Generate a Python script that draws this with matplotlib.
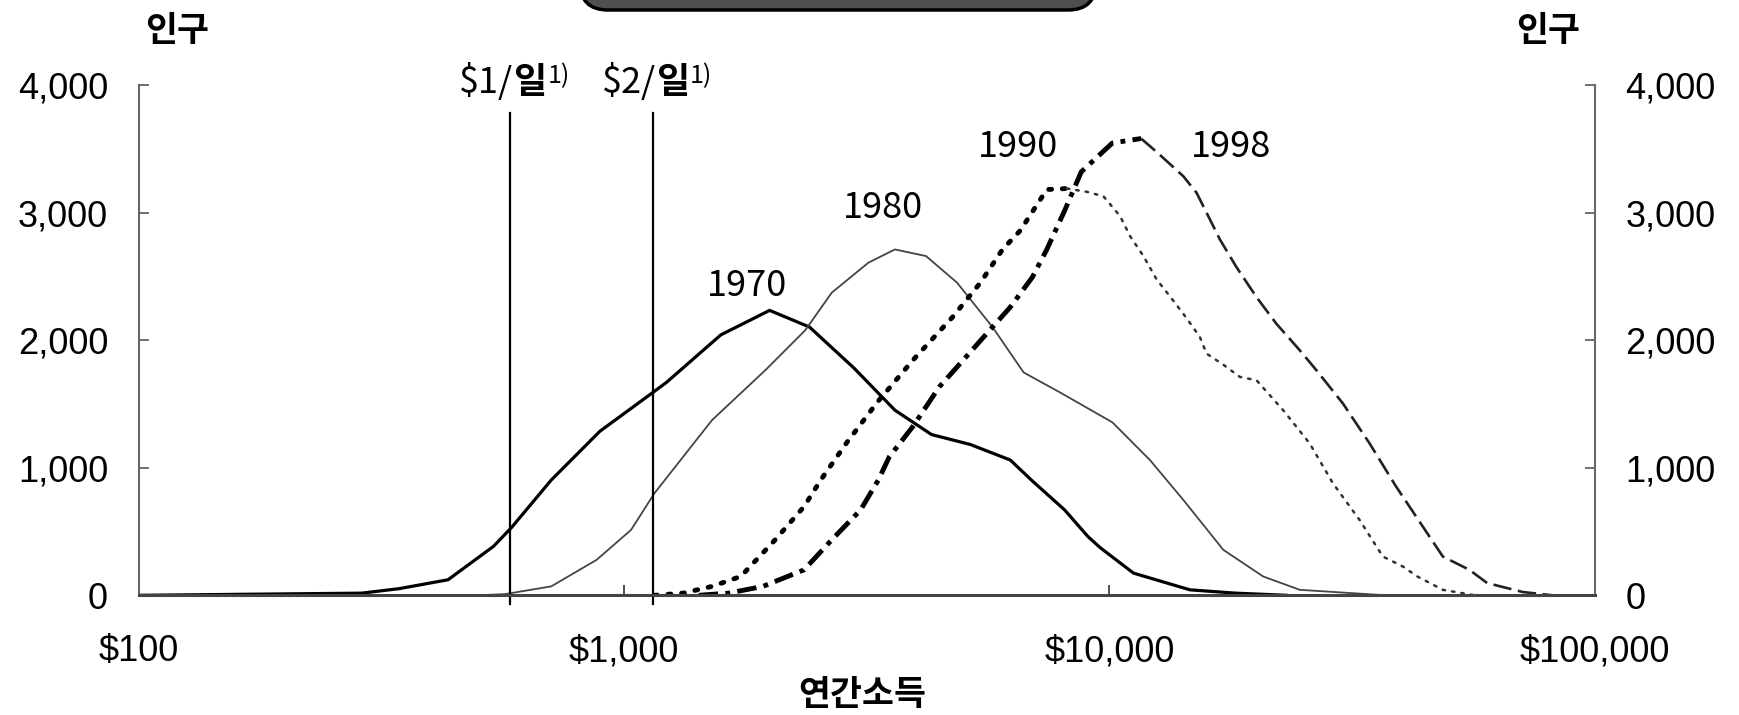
import numpy as np
import matplotlib
matplotlib.use("Agg")
from matplotlib import pyplot as plt
from matplotlib.patches import FancyBboxPatch
from matplotlib.transforms import IdentityTransform

plt.rcParams['font.family'] = ['Noto Sans CJK KR', 'DejaVu Sans']

# annual income (USD, log axis) and population for each year's curve
inc_1970 = [100, 288, 344, 434, 538, 586, 708, 892, 1155, 1223, 1583, 1995, 2411, 2976, 3615,
            4300, 5170, 6250, 6906, 8085, 9030, 9570, 11210, 14650, 18180, 23160]
pop_1970 = [0, 17, 52, 122, 383, 530, 904, 1287, 1600, 1670, 2043, 2235, 2104, 1783, 1452,
            1261, 1183, 1061, 904, 670, 461, 374, 174, 43, 17, 0]

inc_1980 = [498, 568, 708, 878, 1034, 1155, 1518, 1954, 2361, 2679, 3187, 3615, 4190, 4855,
            5743, 6657, 7914, 10140, 12120, 14200, 17160, 20730, 24670, 37180]
pop_1980 = [0, 9, 70, 278, 513, 800, 1374, 1765, 2078, 2374, 2609, 2713, 2661, 2452,
            2104, 1748, 1591, 1357, 1061, 748, 357, 148, 43, 0]

inc_1990 = [1155, 1324, 1518, 1740, 2048, 2349, 2542, 2868, 3323, 3933, 4753, 5422, 6023, 6550,
            7430, 8172, 8984, 9720, 10520, 11030, 11750, 12510, 13470, 14420, 15360, 15850,
            17160, 18570, 20090, 22800, 25860, 28880, 32760, 36590, 40220, 43070, 48630, 56620]
pop_1990 = [0, 17, 70, 148, 435, 696, 904, 1191, 1513, 1843, 2183, 2452, 2713, 2861,
            3183, 3191, 3165, 3130, 2974, 2817, 2661, 2478, 2322, 2174, 2026, 1896,
            1809, 1713, 1687, 1452, 1191, 878, 591, 304, 226, 148, 43, 0]

inc_1998 = [1425, 1642, 1933, 2349, 2679, 3072, 3341, 3521, 3933, 4462, 4855, 5507, 6250, 6940,
            7430, 8085, 8750, 10140, 11620, 12510, 14200, 15120, 16110, 16890, 18270, 20090,
            22080, 24670, 26700, 30280, 34360, 38970, 45160, 48630, 55150, 60010, 71020, 81830]
pop_1998 = [0, 17, 70, 200, 435, 670, 904, 1087, 1322, 1635, 1791, 2026, 2261, 2496,
            2713, 3017, 3322, 3548, 3583, 3478, 3287, 3157, 2948, 2791, 2574, 2339,
            2130, 1922, 1765, 1504, 1191, 852, 487, 304, 200, 96, 26, 0]

poverty_inc = [583, 1148]
poverty_top = 3780
poverty_lbl = ["$1/", "$2/"]

year_lbl = ["1970", "1980", "1990", "1998"]
year_pos = [(1796, 2426), (3412, 3035), (6483, 3513), (17800, 3513)]

x_ticks = [100, 1000, 10000, 100000]
x_ticklbl = ["$100", "$1,000", "$10,000", "$100,000"]
y_ticks = [0, 1000, 2000, 3000, 4000]
y_ticklbl = ["0", "1,000", "2,000", "3,000", "4,000"]

fig = plt.figure(figsize=(17.39, 7.15), dpi=100)
ax = fig.add_axes([0.0797, 0.1674, 0.8374, 0.7132])

ax.plot(inc_1970, pop_1970, color="black", lw=2.3, solid_joinstyle="round")
ax.plot(inc_1980, pop_1980, color="#444444", lw=1.3)

# 1990 dotted: heavier on the way up, light after the peak
k = int(np.argmax(pop_1990))
ax.plot(inc_1990[:k + 1], pop_1990[:k + 1], color="black", lw=3.5,
        linestyle=(0, (0.6, 2.2)), dash_capstyle="round")
ax.plot(inc_1990[k:], pop_1990[k:], color="#333333", lw=1.8,
        linestyle=(0, (1, 2.8)), dash_capstyle="round")

# 1998 dash-dot on the way up, long thin dashes after the peak
k = int(np.argmax(pop_1998))
ax.plot(inc_1998[:k + 1], pop_1998[:k + 1], color="black", lw=3.5,
        linestyle=(0, (4, 1.5, 1, 1.5)))
ax.plot(inc_1998[k:], pop_1998[k:], color="#222222", lw=1.9,
        linestyle=(0, (7, 2.5)))

for xv, lbl in zip(poverty_inc, poverty_lbl):
    ax.plot([xv, xv], [-70, poverty_top], color="black", lw=1.6, clip_on=False)
    t1 = ax.annotate(lbl, xy=(xv, poverty_top), xytext=(2, 15), textcoords="offset points",
                     ha="right", va="baseline", fontsize=26)
    t2 = ax.annotate("일", xy=(1, 0), xycoords=t1, ha="left", va="bottom",
                     fontsize=26, fontweight="bold")
    ax.annotate("1)", xy=(1.03, 0.3), xycoords=t2, ha="left", va="bottom", fontsize=18)

for lbl, (xv, yv) in zip(year_lbl, year_pos):
    ax.text(xv, yv, lbl, ha="center", va="center", fontsize=26)

ax.set_xscale("log")
ax.set_xlim(100, 100000)
ax.set_ylim(0, 4000)
ax.set_xticks(x_ticks)
ax.set_xticklabels(x_ticklbl, fontfamily="Liberation Sans", fontsize=26)
ax.xaxis.set_minor_locator(matplotlib.ticker.NullLocator())
ax.set_yticks(y_ticks)
ax.set_yticklabels(y_ticklbl, fontfamily="Liberation Sans", fontsize=26)
ax.tick_params(axis="x", direction="in", length=7, width=1.2, pad=28, colors="#333333",
               labelcolor="black")
ax.tick_params(axis="y", direction="in", length=7, width=1.2, pad=22, colors="#555555",
               labelcolor="black", right=True, labelright=True)

ax.spines["top"].set_visible(False)
ax.spines["left"].set_color("#666666")
ax.spines["right"].set_color("#666666")
ax.spines["left"].set_linewidth(1.5)
ax.spines["right"].set_linewidth(1.5)
ax.spines["bottom"].set_color("#444444")
ax.spines["bottom"].set_linewidth(2.2)

fig.text(0.102, 0.957, "인구", ha="center", va="center", fontsize=25, fontweight="bold")
fig.text(0.890, 0.957, "인구", ha="center", va="center", fontsize=25, fontweight="bold")
fig.text(0.496, 0.028, "연간소득", ha="center", va="center", fontsize=25, fontweight="bold")

# dark rounded box cut off at the top edge
box = FancyBboxPatch((580, 705), 516, 80, boxstyle="round,pad=0,rounding_size=28",
                     transform=IdentityTransform(), facecolor="#4f4f4f",
                     edgecolor="black", lw=2.5)
fig.patches.append(box)

fig.savefig("out.png", dpi=100)
